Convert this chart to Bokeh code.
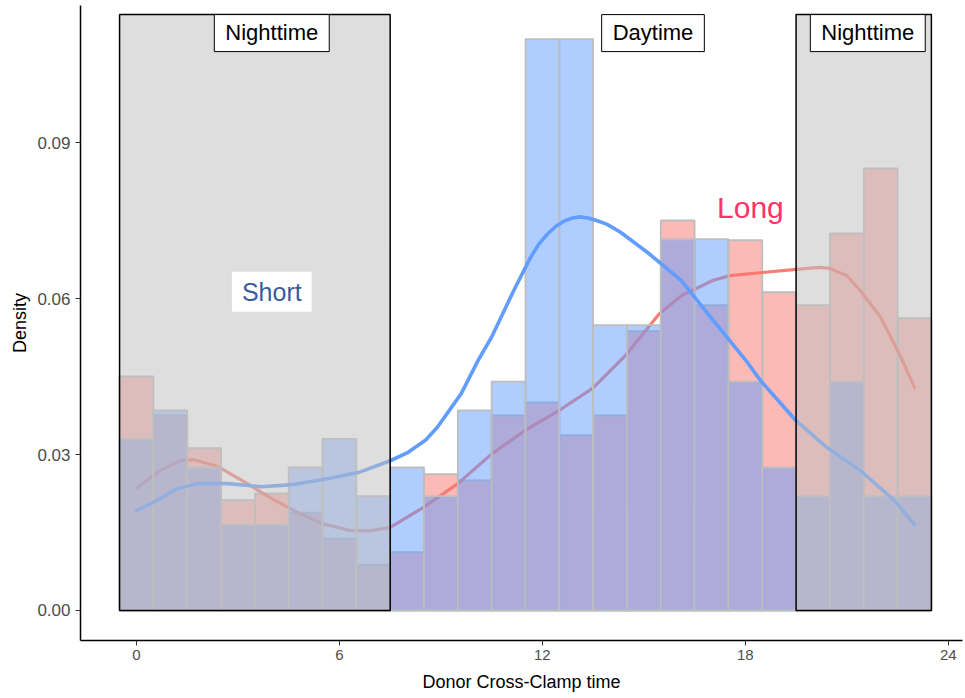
from bokeh.plotting import figure
from bokeh.models import Range1d, FixedTicker, Label
from bokeh.embed import file_html
from bokeh.resources import INLINE

# ---- histogram data (density per 1-hour bin, centres 0..23) ----
bin_centers = list(range(24))
long_density = [0.0450, 0.0375, 0.0312, 0.0212, 0.0225, 0.0188, 0.0138, 0.0088,
                0.0112, 0.0262, 0.0250, 0.0375, 0.0400, 0.0337, 0.0375, 0.0537,
                0.0750, 0.0587, 0.0712, 0.0612, 0.0587, 0.0725, 0.0850, 0.0562]
short_density = [0.0330, 0.0385, 0.0275, 0.0165, 0.0165, 0.0275, 0.0330, 0.0220,
                 0.0275, 0.0220, 0.0385, 0.0440, 0.1099, 0.1099, 0.0549, 0.0549,
                 0.0714, 0.0714, 0.0440, 0.0275, 0.0220, 0.0440, 0.0220, 0.0220]

# ---- kernel density curves ----
short_kde_x = [0.0, 0.5, 1.2, 1.8, 2.7, 3.7, 4.6, 5.6, 6.6, 7.5, 8.0, 8.55, 8.9, 9.6, 10.1,
               10.5, 11.15, 11.65, 11.9, 12.15, 12.4, 12.65, 12.9, 13.1, 13.35, 13.6, 13.9,
               14.3, 15.1, 16.1, 17.05, 18.05, 18.45, 19.5, 20.4, 21.4, 22.4, 23.0]
short_kde_y = [0.0192, 0.0208, 0.0234, 0.0244, 0.0244, 0.0238, 0.0242, 0.0253, 0.0266,
               0.0288, 0.0303, 0.0328, 0.0353, 0.0417, 0.0481, 0.0526, 0.0615, 0.0679,
               0.0705, 0.0724, 0.0739, 0.0749, 0.0755, 0.0757, 0.0755, 0.0750, 0.0743,
               0.0728, 0.0689, 0.0635, 0.0558, 0.0478, 0.0442, 0.0365, 0.0314, 0.0269,
               0.0212, 0.0165]
long_kde_x = [0.0, 0.7, 1.3, 1.7, 2.4, 3.2, 4.0, 4.75, 5.5, 6.3, 6.9, 7.5, 8.5, 9.5,
              10.5, 11.55, 12.5, 13.5, 14.45, 15.45, 16.1, 17.05, 17.55, 18.5, 19.5,
              20.2, 20.5, 21.0, 21.4, 22.0, 22.6, 23.0]
long_kde_y = [0.0235, 0.0269, 0.0288, 0.0290, 0.0277, 0.0247, 0.0215, 0.0189, 0.0167,
              0.0154, 0.0153, 0.0160, 0.0199, 0.0244, 0.0301, 0.0349, 0.0385, 0.0428,
              0.0490, 0.0570, 0.0605, 0.0635, 0.0644, 0.0650, 0.0656, 0.0660, 0.0658,
              0.0644, 0.0615, 0.0564, 0.0487, 0.0429]

# ---- shaded periods ----
night_left = [-0.5, 19.5]
night_right = [7.5, 23.5]
night_top = 0.1146

period_labels = ["Nighttime", "Daytime", "Nighttime"]
period_label_x = [4.0, 15.27, 21.62]

x_ticks = [0, 6, 12, 18, 24]
y_ticks = [0.00, 0.03, 0.06, 0.09]
y_tick_labels = ["0.00", "0.03", "0.06", "0.09"]

RED = "#F8766D"
BLUE = "#619CFF"

p = figure(width=965, height=698,
           x_range=Range1d(-1.655, 24.42), y_range=Range1d(-0.00577, 0.11635),
           output_backend="svg", toolbar_location=None,
           min_border_left=80, min_border_right=3, min_border_top=5, min_border_bottom=58)
p.outline_line_color = None
p.xgrid.grid_line_color = None
p.ygrid.grid_line_color = None
p.background_fill_color = "white"

left_edges = [c - 0.5 for c in bin_centers]
right_edges = [c + 0.5 for c in bin_centers]

# Long histogram + curve
p.quad(left=left_edges, right=right_edges, bottom=0, top=long_density,
       fill_color=RED, fill_alpha=0.5, line_color="#BEBEBE", line_width=1.8)
p.line(long_kde_x, long_kde_y, line_color=RED, line_width=3.2, line_alpha=0.95,
       line_join="round", line_cap="round")

# Short histogram + curve
p.quad(left=left_edges, right=right_edges, bottom=0, top=short_density,
       fill_color=BLUE, fill_alpha=0.5, line_color="#BEBEBE", line_width=1.8)
p.line(short_kde_x, short_kde_y, line_color=BLUE, line_width=3.6,
       line_join="round", line_cap="round")

# night-time shading
p.quad(left=night_left, right=night_right, bottom=0, top=night_top,
       fill_color="#C1C1C1", fill_alpha=0.53, line_color="black", line_width=1.5)

for txt, xx in zip(period_labels, period_label_x):
    p.add_layout(Label(x=xx, y=night_top, text=txt, text_align="center", text_baseline="top",
                       text_font="Liberation Sans", text_font_size="22px", text_color="black",
                       background_fill_color="white", border_line_color="black",
                       border_line_width=1,
                       padding=dict(left=11, right=11, top=5, bottom=7)))

p.add_layout(Label(x=4.0, y=0.0613, text="Short", text_align="center", text_baseline="middle",
                   text_font="Liberation Sans", text_font_size="25px", text_color="#3A5BA0",
                   background_fill_color="white",
                   padding=dict(left=10, right=10, top=6, bottom=6)))
p.add_layout(Label(x=18.15, y=0.0775, text="Long", text_align="center", text_baseline="middle",
                   text_font="Liberation Sans", text_font_size="30px", text_color="#FF3366"))

# axes
for ax in (p.xaxis[0], p.yaxis[0]):
    ax.axis_line_color = "black"
    ax.axis_line_width = 1.5
    ax.major_tick_line_color = "#333333"
    ax.major_tick_out = 5
    ax.major_tick_in = 0
    ax.minor_tick_line_color = None
    ax.major_label_text_color = "#4D4D4D"
    ax.major_label_text_font = "Liberation Sans"
    ax.axis_label_text_font = "Liberation Sans"
    ax.axis_label_text_font_style = "normal"
    ax.axis_label_text_color = "black"
    ax.axis_label_text_font_size = "18px"

p.xaxis.ticker = FixedTicker(ticks=x_ticks)
p.xaxis.major_label_text_font_size = "15px"
p.xaxis.axis_label = "Donor Cross-Clamp time"
p.xaxis.major_label_standoff = 4
p.xaxis.axis_label_standoff = 9

p.yaxis.ticker = FixedTicker(ticks=y_ticks)
p.yaxis.major_label_overrides = {t: s for t, s in zip(y_ticks, y_tick_labels)}
p.yaxis.major_label_text_font_size = "17px"
p.yaxis.axis_label = "Density"
p.yaxis.major_label_standoff = 5
p.yaxis.axis_label_standoff = 4

open("out.html", "w").write(file_html(p, INLINE))
